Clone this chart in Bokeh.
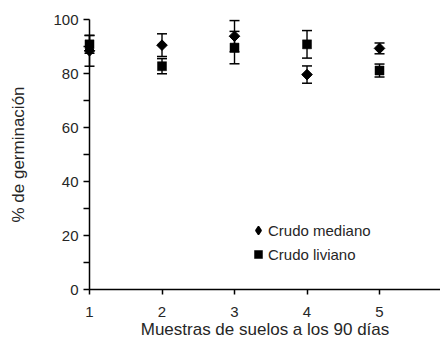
import math
from bokeh.plotting import figure
from bokeh.models import Range1d, FixedTicker, Legend, LegendItem, ColumnDataSource
from bokeh.embed import file_html
from bokeh.resources import INLINE

# Data
muestras = [1, 2, 3, 4, 5, 6]
crudo_mediano = [88.4, 90.5, 93.8, 79.6, 89.3, 88.0]
crudo_mediano_err = [5.7, 4.2, 5.8, 3.2, 2.0, 2.0]
crudo_liviano = [90.8, 82.7, 89.6, 90.8, 81.1, 89.3]
crudo_liviano_err = [3.3, 2.8, 6.0, 5.1, 2.4, 2.5]
x_ticks = [1, 2, 3, 4, 5, 6]
y_ticks = [0, 20, 40, 60, 80, 100]
y_minor = [10, 30, 50, 70, 90]

FONT = "Liberation Sans"
TXT = "#262626"

def build_source(x, y, e):
    return ColumnDataSource(dict(
        x=x, y=y,
        lo=[a - b for a, b in zip(y, e)],
        hi=[a + b for a, b in zip(y, e)],
    ))

src_med = build_source(muestras, crudo_mediano, crudo_mediano_err)
src_liv = build_source(muestras, crudo_liviano, crudo_liviano_err)

p = figure(width=440, height=342, output_backend="svg", toolbar_location=None,
           x_range=Range1d(1, 5.841), y_range=Range1d(0, 100),
           min_border_left=89, min_border_right=0, min_border_top=19,
           min_border_bottom=53)
p.outline_line_color = None
p.xgrid.grid_line_color = None
p.ygrid.grid_line_color = None
p.background_fill_color = "white"
p.border_fill_color = "white"

# error bars
for src in (src_med, src_liv):
    p.segment(x0="x", y0="lo", x1="x", y1="hi", source=src, line_color="black",
              line_width=1.4, level="overlay")
    p.scatter(x="x", y="lo", source=src, marker="dash", size=10, line_color="black",
              line_width=1.5, level="overlay")
    p.scatter(x="x", y="hi", source=src, marker="dash", size=10, line_color="black",
              line_width=1.5, level="overlay")

# legend-style diamond (hidden under the turned squares, used for the legend key)
r_med_key = p.scatter(x="x", y="y", source=src_med, marker="diamond", size=8,
                      fill_color="black", line_color="black", line_width=1.5,
                      level="overlay")
# data markers (diamond = square turned 45 degrees)
p.scatter(x="x", y="y", source=src_med, marker="square", angle=math.pi / 4, size=7.5,
          fill_color="black", line_color="black", level="overlay")
r_liv = p.scatter(x="x", y="y", source=src_liv, marker="square", size=9,
                  fill_color="black", line_color="black", line_width=0.5,
                  level="overlay")

legend = Legend(items=[LegendItem(label="Crudo mediano", renderers=[r_med_key]),
                       LegendItem(label="Crudo liviano", renderers=[r_liv])],
                location=(159, 25), orientation="vertical")
legend.border_line_color = None
legend.background_fill_alpha = 0
legend.padding = 0
legend.margin = 0
legend.spacing = 4
legend.glyph_width = 20
legend.glyph_height = 20
legend.label_height = 20
legend.label_standoff = 0
legend.label_text_font = FONT
legend.label_text_font_size = "15px"
legend.label_text_color = TXT
p.add_layout(legend, "center")

# axes
p.xaxis.ticker = FixedTicker(ticks=x_ticks)
p.yaxis.ticker = FixedTicker(ticks=y_ticks, minor_ticks=y_minor)
p.xaxis.axis_label = "Muestras de suelos a los 90 días"
p.yaxis.axis_label = "% de germinación"
for ax in (p.xaxis, p.yaxis):
    ax.axis_line_color = "black"
    ax.axis_line_width = 1.5
    ax.major_tick_line_color = "black"
    ax.major_tick_line_width = 1.5
    ax.major_tick_in = 0
    ax.major_label_text_font = FONT
    ax.major_label_text_font_size = "15px"
    ax.major_label_text_color = TXT
    ax.axis_label_text_font = FONT
    ax.axis_label_text_font_size = "17px"
    ax.axis_label_text_font_style = "normal"
    ax.axis_label_text_color = TXT
p.xaxis.major_tick_out = 5
p.xaxis.minor_tick_line_color = None
p.xaxis.major_label_standoff = 12
p.xaxis.axis_label_standoff = 0
p.yaxis.major_tick_out = 6
p.yaxis.minor_tick_out = 6
p.yaxis.minor_tick_in = 0
p.yaxis.minor_tick_line_color = "black"
p.yaxis.minor_tick_line_width = 1.5
p.yaxis.major_label_standoff = 5
p.yaxis.axis_label_standoff = 22

open("out.html", "w").write(file_html(p, INLINE))
